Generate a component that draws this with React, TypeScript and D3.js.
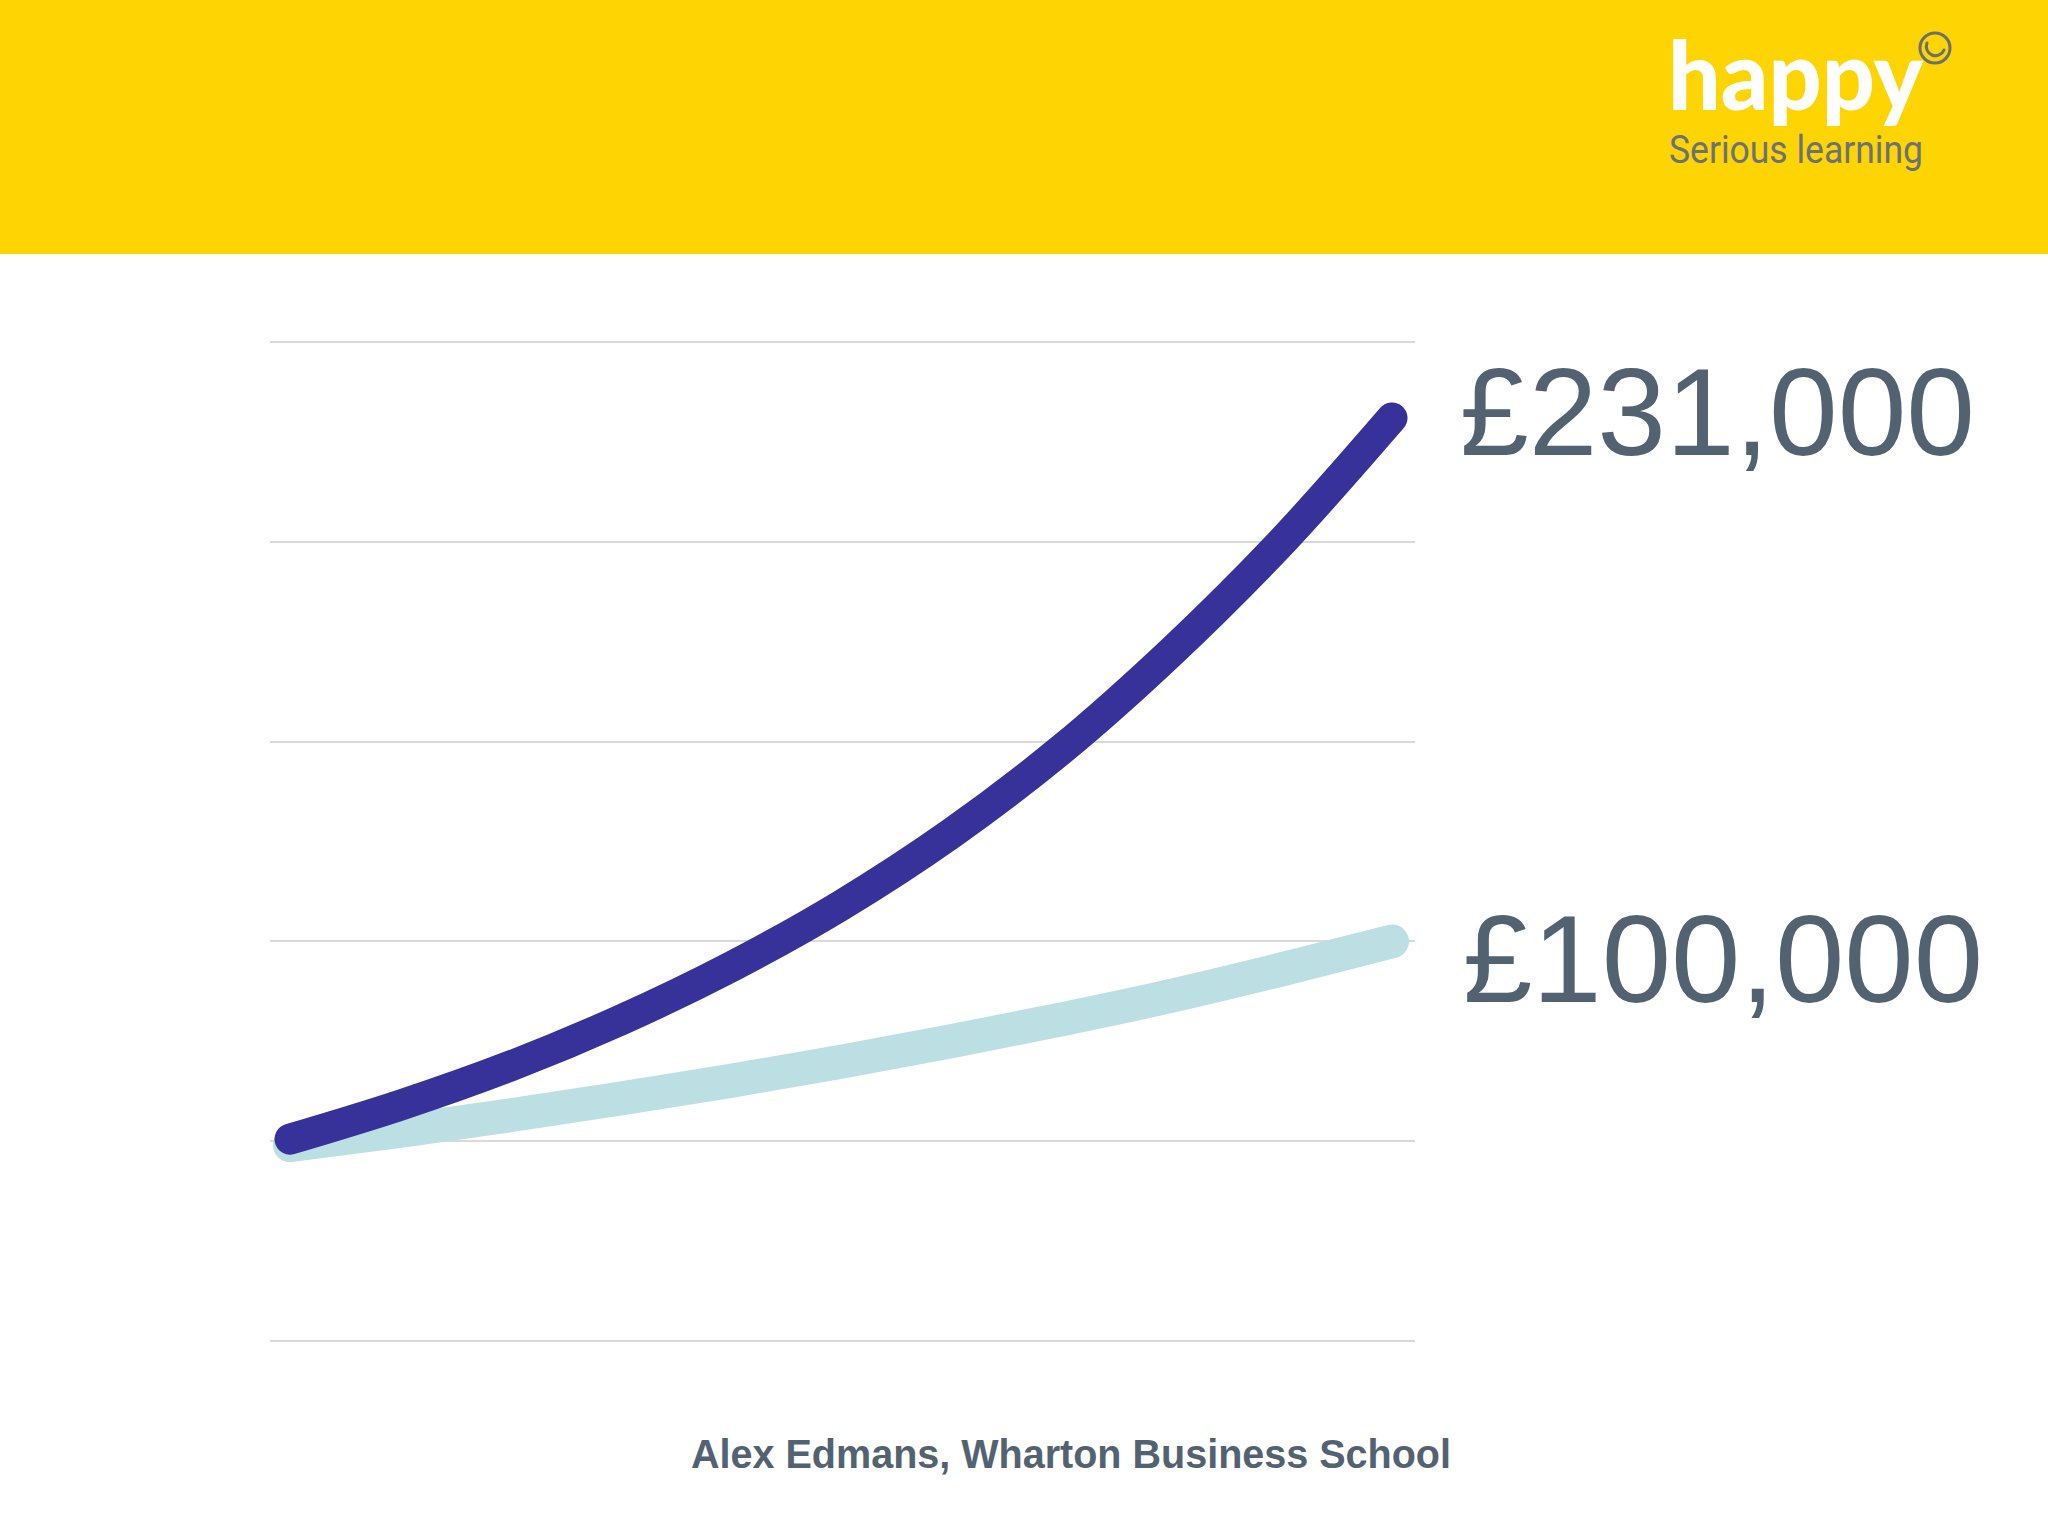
import React from "react";
import * as d3 from "d3";

// Years on the x axis
const years = [0, 2, 4, 6, 8, 10, 12, 14, 16, 18, 20];
// Higher-growth series (£)
const highGrowth = [50500, 59000, 68800, 80300, 93600, 109000, 127000, 148000, 172500, 200000, 231000];
// Lower-growth series (£)
const lowGrowth = [49000, 52600, 56500, 60700, 65100, 69900, 75000, 80500, 86400, 93000, 100000];
// Gridline values
const gridValues = [0, 50000, 100000, 150000, 200000, 250000];
// End labels
const endLabels = ["£231,000", "£100,000"];
const footer = "Alex Edmans, Wharton Business School";

const W = 2048;
const H = 1536;

export default function App() {
  const x = d3.scaleLinear().domain([0, 20]).range([290, 1392]);
  const y = d3.scaleLinear().domain([0, 250000]).range([1341, 342]);

  const line = d3
    .line<[number, number]>()
    .x((d) => x(d[0]))
    .y((d) => y(d[1]))
    .curve(d3.curveCatmullRom.alpha(0.5));

  const highPts = years.map((yr, i) => [yr, highGrowth[i]] as [number, number]);
  const lowPts = years.map((yr, i) => [yr, lowGrowth[i]] as [number, number]);

  const textColor = "#536270";

  return (
    <div style={{ position: "absolute", left: 0, top: 0, width: W, height: H }}>
      <svg width={W} height={H} viewBox={`0 0 ${W} ${H}`} style={{ display: "block" }}>
        <rect x={0} y={0} width={W} height={H} fill="#ffffff" />
        {/* Header band */}
        <rect x={0} y={0} width={W} height={254} fill="#FED402" />
        {/* Logo */}
        <text
          x={1668}
          y={110}
          fill="#ffffff"
          fontFamily="Lato, 'Open Sans', sans-serif"
          fontWeight={900}
          fontSize={96}
          textLength={255}
          lengthAdjust="spacingAndGlyphs"
        >
          happy
        </text>
        <circle cx={1935} cy={48} r={15} fill="none" stroke="#6b6f70" strokeWidth={3} />
        <path
          d="M 1927 43 A 9 9 0 0 0 1944 50"
          fill="none"
          stroke="#6b6f70"
          strokeWidth={3}
          strokeLinecap="round"
        />
        <text
          x={1669}
          y={163}
          fill="#6b7178"
          fontFamily="Roboto, 'Liberation Sans', sans-serif"
          fontWeight={400}
          fontSize={39}
          textLength={254}
          lengthAdjust="spacingAndGlyphs"
        >
          Serious learning
        </text>

        {/* Gridlines */}
        {gridValues.map((v) => (
          <line
            key={v}
            x1={270}
            x2={1415}
            y1={Math.round(y(v))}
            y2={Math.round(y(v))}
            stroke="#d9d9d9"
            strokeWidth={2}
          />
        ))}

        {/* Series */}
        <path
          d={line(lowPts) || ""}
          fill="none"
          stroke="#BBDFE3"
          strokeWidth={34}
          strokeLinecap="round"
          strokeLinejoin="round"
        />
        <path
          d={line(highPts) || ""}
          fill="none"
          stroke="#36329A"
          strokeWidth={31}
          strokeLinecap="round"
          strokeLinejoin="round"
        />

        {/* End labels */}
        <text
          x={1460}
          y={455}
          fill={textColor}
          fontFamily="'Liberation Sans', Arial, sans-serif"
          fontSize={124}
          textLength={515}
          lengthAdjust="spacingAndGlyphs"
        >
          {endLabels[0]}
        </text>
        <text
          x={1463}
          y={1002}
          fill={textColor}
          fontFamily="'Liberation Sans', Arial, sans-serif"
          fontSize={124}
          textLength={520}
          lengthAdjust="spacingAndGlyphs"
        >
          {endLabels[1]}
        </text>

        {/* Footer */}
        <text
          x={1071}
          y={1468}
          textAnchor="middle"
          fill={textColor}
          fontFamily="'Liberation Sans', Arial, sans-serif"
          fontWeight={700}
          fontSize={40}
          textLength={760}
          lengthAdjust="spacingAndGlyphs"
        >
          {footer}
        </text>
      </svg>
    </div>
  );
}
